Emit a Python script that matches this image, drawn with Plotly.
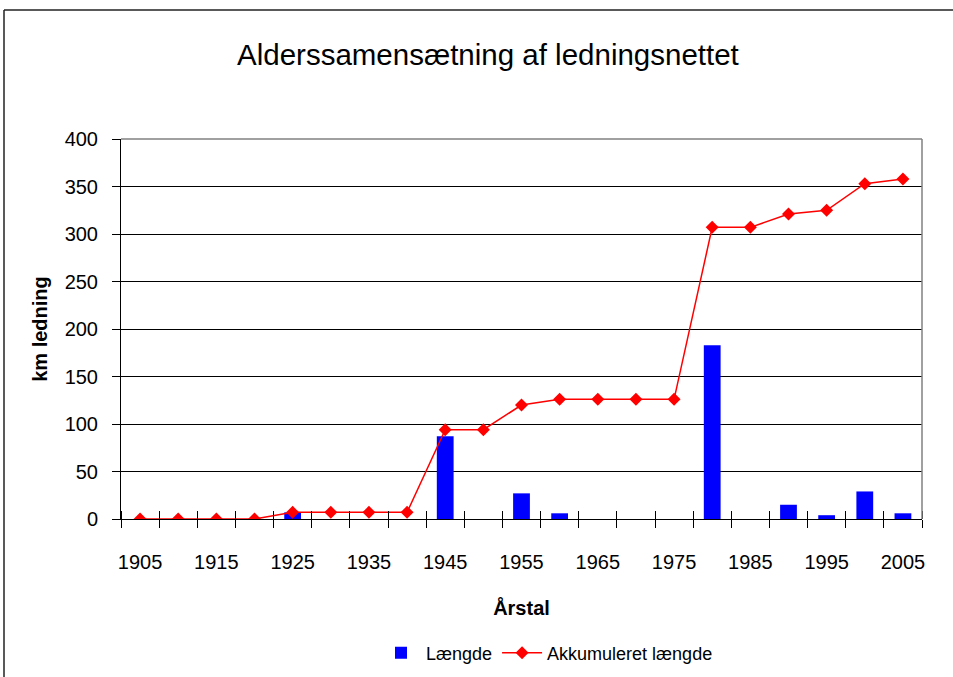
import plotly.graph_objects as go

years = [1905, 1910, 1915, 1920, 1925, 1930, 1935, 1940, 1945, 1950, 1955,
         1960, 1965, 1970, 1975, 1980, 1985, 1990, 1995, 2000, 2005]
laengde = [0, 0, 0, 0, 7, 0, 0, 0, 87, 0, 27, 6, 0, 0, 0, 183, 0, 15, 4, 29, 6]
akkumuleret = [0, 0, 0, 0, 7, 7, 7, 7, 94, 94, 120, 126, 126, 126, 126,
               307, 307, 321, 325, 353, 358]
x_tick_labels = [1905, 1915, 1925, 1935, 1945, 1955, 1965, 1975, 1985, 1995, 2005]
y_ticks = [0, 50, 100, 150, 200, 250, 300, 350, 400]

boundaries = [y - 2.5 for y in years] + [years[-1] + 2.5]

SANS = "Liberation Sans, Arial, sans-serif"

fig = go.Figure()
fig.add_trace(go.Bar(
    x=years, y=laengde, name="Længde", width=2.2,
    marker=dict(color="#0000FF", line=dict(width=0)),
    xaxis="x", yaxis="y",
))
fig.add_trace(go.Scatter(
    x=years, y=akkumuleret, name="Akkumuleret længde", mode="lines+markers",
    line=dict(color="#FF0000", width=1.5),
    marker=dict(symbol="diamond", size=10, color="#FF0000"),
    xaxis="x2", yaxis="y2",
))

W, H = 953, 677
L, R, T, B = 121, 922, 139, 519


def px(xp):
    return (xp - L) / (R - L)


def py(yp):
    return (B - yp) / (B - T)


xrange_ = [boundaries[0], boundaries[-1]]
fig.update_layout(
    width=W, height=H,
    margin=dict(l=L, r=W - R, t=T, b=H - B, autoexpand=False),
    paper_bgcolor="white", plot_bgcolor="white",
    title=dict(text="Alderssamensætning af ledningsnettet", x=0.512, xanchor="center",
               y=1 - 55 / H, yanchor="middle",
               font=dict(family=SANS, size=29.5, color="black")),
    xaxis=dict(
        range=xrange_, tickvals=x_tick_labels, ticktext=[str(v) for v in x_tick_labels],
        ticks="", showgrid=False, zeroline=False, automargin=False,
        showline=True, linecolor="black", linewidth=1,
        ticklabelstandoff=25,
        tickfont=dict(family=SANS, size=20, color="black"),
        minor=dict(tickvals=boundaries, ticks="outside", ticklen=8, tickcolor="black",
                   tickwidth=1, showgrid=False),
        title=dict(text="<b>Årstal</b>", font=dict(family=SANS, size=20, color="black"),
                   standoff=28),
    ),
    yaxis=dict(
        range=[0, 400], tickvals=y_ticks, ticks="outside", ticklen=8, tickcolor="black",
        showgrid=True, gridcolor="black", gridwidth=1, zeroline=False, automargin=False,
        showline=True, linecolor="black", linewidth=1,
        ticklabelstandoff=10,
        tickfont=dict(family=SANS, size=20, color="black"),
        title=dict(text="<b>km ledning</b>", font=dict(family=SANS, size=20, color="black"),
                   standoff=11),
    ),
    xaxis2=dict(
        overlaying="x", matches="x", anchor="y2", range=xrange_, automargin=False,
        showticklabels=False, ticks="", showgrid=False, zeroline=False, showline=False,
        tickvals=x_tick_labels,
        minor=dict(tickvals=boundaries, ticks="inside", ticklen=8, tickcolor="black",
                   tickwidth=1, showgrid=False),
    ),
    yaxis2=dict(
        overlaying="y", matches="y", anchor="x2", side="left", range=[0, 400],
        automargin=False,
        tickvals=y_ticks, showticklabels=False, ticks="inside", ticklen=9,
        tickcolor="black", showgrid=False, zeroline=False, showline=False,
    ),
    legend=dict(orientation="h", x=px(547), xanchor="center", y=py(653), yanchor="middle",
                font=dict(family=SANS, size=18, color="black"),
                bgcolor="rgba(0,0,0,0)", itemwidth=40),
    showlegend=True,
    shapes=[
        dict(type="line", xref="paper", yref="paper", x0=0, x1=1, y0=1, y1=1,
             line=dict(color="#808080", width=1.5), layer="above"),
        dict(type="line", xref="paper", yref="paper", x0=1, x1=1, y0=0, y1=1,
             line=dict(color="#808080", width=1.5), layer="above"),
        dict(type="line", xref="paper", yref="paper", x0=px(4), x1=px(960), y0=py(10), y1=py(10),
             line=dict(color="#222222", width=1.5)),
        dict(type="line", xref="paper", yref="paper", x0=px(4), x1=px(4), y0=py(10), y1=py(700),
             line=dict(color="#222222", width=1.5)),
    ],
)

fig.write_html("out.html", config={"displayModeBar": False},
               post_script="document.body.style.margin='0';")
